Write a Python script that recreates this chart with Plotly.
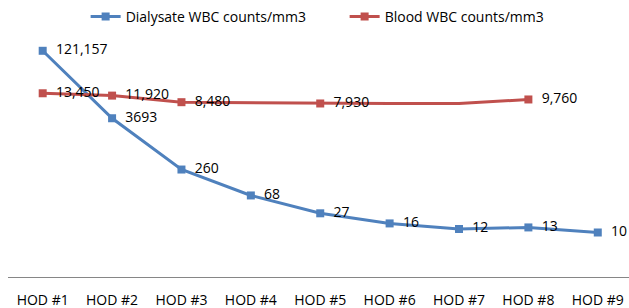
import plotly.graph_objects as go

categories = ["HOD #1", "HOD #2", "HOD #3", "HOD #4", "HOD #5", "HOD #6", "HOD #7", "HOD #8", "HOD #9"]
dialysate = [121157, 3693, 260, 68, 27, 16, 12, 13, 10]
dialysate_labels = ["121,157", "3693", "260", "68", "27", "16", "12", "13", "10"]
blood = [13450, 11920, 8480, 8200, 7930, 7930, 7930, 9760, None]
blood_labels = ["13,450", "11,920", "8,480", "", "7,930", "", "", "9,760", ""]
blood_marker_shown = [True, True, True, False, True, False, False, True, False]

BLUE = "#4F81BD"
RED = "#C0504D"
FONT = "Open Sans"
PAD = "\u00a0\u00a0"

fig = go.Figure()
fig.add_trace(go.Scatter(
    x=categories, y=dialysate, name="Dialysate WBC counts/mm3",
    mode="lines+markers+text", text=dialysate_labels, textposition="middle right",
    texttemplate=PAD + "%{text}",
    line=dict(color=BLUE, width=3), marker=dict(symbol="square", size=8, color=BLUE),
    textfont=dict(color="#000000", size=14, family=FONT), cliponaxis=False,
))
fig.add_trace(go.Scatter(
    x=categories, y=blood, name="Blood WBC counts/mm3",
    mode="lines+markers+text", text=blood_labels, textposition="middle right",
    texttemplate=PAD + "%{text}",
    line=dict(color=RED, width=3),
    marker=dict(symbol="square", size=8,
                color=[RED if s else "rgba(0,0,0,0)" for s in blood_marker_shown]),
    textfont=dict(color="#000000", size=14, family=FONT), cliponaxis=False,
))

fig.update_layout(
    width=629, height=308,
    margin=dict(l=8, r=0, t=10, b=31, autoexpand=False),
    plot_bgcolor="white", paper_bgcolor="white",
    font=dict(family=FONT, size=14, color="#000000"),
    showlegend=True,
    legend=dict(orientation="h", x=0.125, y=0.974,
                xanchor="left", yanchor="middle", font=dict(size=14, family=FONT),
                bgcolor="rgba(0,0,0,0)", entrywidth=214, entrywidthmode="pixels"),
    xaxis=dict(type="category", range=[-0.5, 8.45], showgrid=False, zeroline=False,
               showline=True, linecolor="#868686", linewidth=1, ticks="",
               ticklabelstandoff=10, tickfont=dict(size=14, family=FONT)),
    yaxis=dict(type="log", range=[0, 6], showgrid=False, zeroline=False,
               showline=False, showticklabels=False, ticks=""),
)

fig.write_html("out.html", config={"displayModeBar": False},
               post_script="document.body.style.margin='0';document.body.style.overflow='hidden';")
